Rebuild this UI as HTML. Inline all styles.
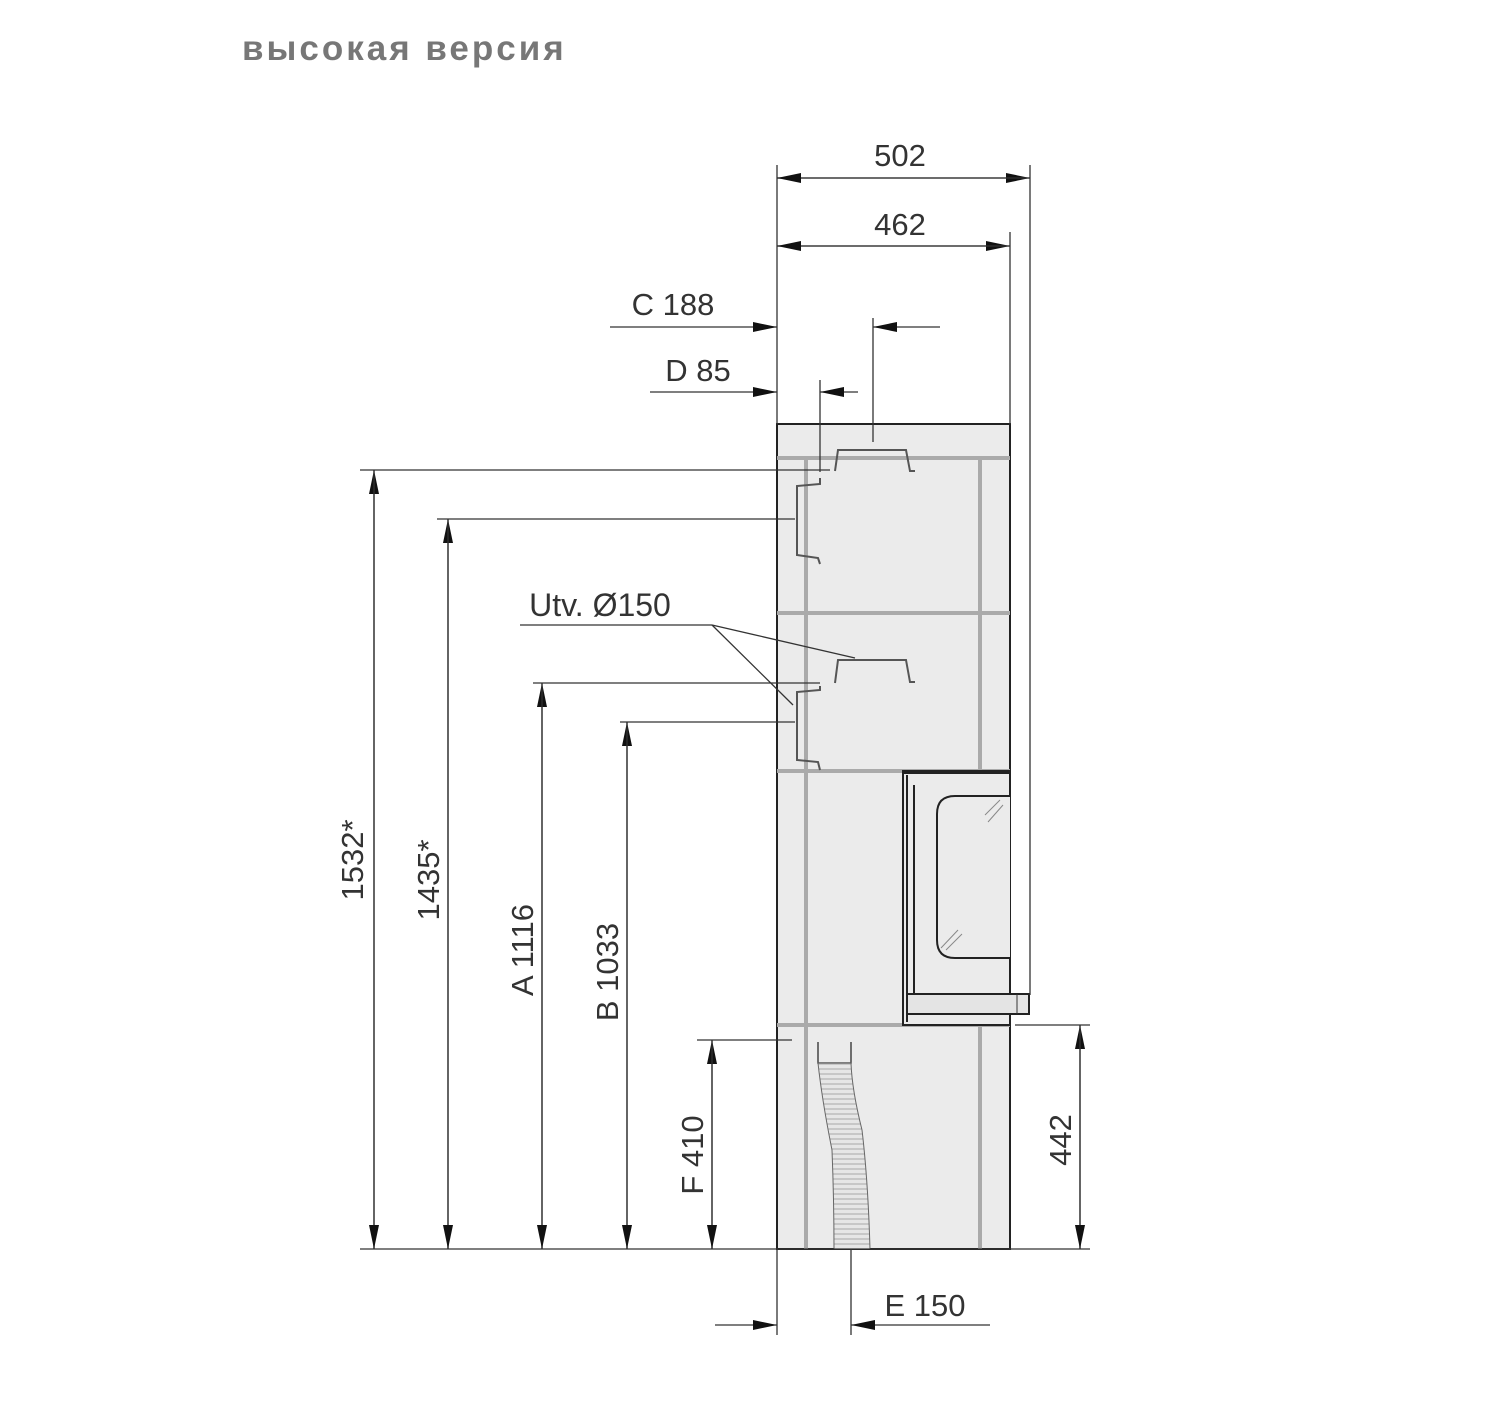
<!DOCTYPE html>
<html><head><meta charset="utf-8"><style>
html,body{margin:0;padding:0;background:#fff;}
svg{display:block}
text{font-family:"Liberation Sans","DejaVu Sans",sans-serif;fill:#333;font-size:31px}
</style></head><body>
<svg width="1500" height="1427" viewBox="0 0 1500 1427" xmlns="http://www.w3.org/2000/svg">
<defs>
<marker id="a" markerWidth="24" markerHeight="12" refX="24" refY="6" orient="auto" markerUnits="userSpaceOnUse">
<path d="M0,1 L24,6 L0,11 Z" fill="#111"/></marker>
<pattern id="h" width="10" height="5" patternUnits="userSpaceOnUse"><rect width="10" height="5" fill="#e6e6e6"/><line x1="0" y1="4" x2="10" y2="4" stroke="#999" stroke-width="0.8"/></pattern>
</defs>
<text x="242" y="60" style="font-size:35px;font-weight:bold;fill:#777;letter-spacing:3px">высокая версия</text>

<rect x="777" y="424" width="233" height="825" fill="#ebebeb" stroke="#222" stroke-width="2"/>
<g stroke="#aaa" stroke-width="4" fill="none">
<line x1="777" y1="458" x2="1010" y2="458"/>
<line x1="777" y1="613" x2="1010" y2="613"/>
<line x1="777" y1="771" x2="1010" y2="771"/>
<line x1="777" y1="1025" x2="1010" y2="1025"/>
<line x1="806" y1="458" x2="806" y2="1249"/>
<line x1="980" y1="458" x2="980" y2="771"/>
<line x1="980" y1="1025" x2="980" y2="1249"/>
</g>
<g stroke="#555" stroke-width="2" fill="none">
<path d="M835,471 L838,450 L906,450 L910,471 L915,471"/>
<path d="M820,478 L820,484 L797,486 L797,555 L818,558 L820,564"/>
<path d="M835,683 L838,660 L906,660 L910,682 L915,682"/>
<path d="M820,686 L820,690 L797,692 L797,760 L818,762 L820,770"/>
</g>
<rect x="903" y="771" width="107" height="254" fill="#ebebeb" stroke="#222" stroke-width="2"/>
<line x1="903" y1="772" x2="1010" y2="772" stroke="#222" stroke-width="4"/>
<path d="M907,775 L907,1022 M914,785 L914,995" stroke="#222" stroke-width="2" fill="none"/>
<path d="M1010,796 L955,796 Q937,796 937,814 L937,940 Q937,958 955,958 L1010,958" fill="#ebebeb" stroke="#222" stroke-width="2"/>
<g stroke="#888" stroke-width="1"><line x1="985" y1="815" x2="1000" y2="800"/><line x1="988" y1="822" x2="1003" y2="805"/><line x1="941" y1="948" x2="958" y2="930"/><line x1="946" y1="950" x2="962" y2="934"/></g>
<rect x="907" y="994" width="122" height="20" fill="#e4e4e4" stroke="#222" stroke-width="2"/>
<line x1="1017" y1="994" x2="1017" y2="1014" stroke="#333"/>
<path d="M818,1042 L818,1063 L851,1063 L851,1042" stroke="#444" stroke-width="1.5" fill="none"/>
<path d="M818,1063 Q822,1100 832,1150 Q834,1200 834,1249 L870,1249 Q868,1180 862,1130 Q852,1090 851,1063 Z" fill="url(#h)" stroke="#666" stroke-width="1"/>

<g stroke="#333" stroke-width="1.3" fill="none">
<line x1="777" y1="165" x2="777" y2="424"/>
<line x1="1030" y1="165" x2="1030" y2="995"/>
<line x1="1010" y1="232" x2="1010" y2="424"/>
<line x1="777" y1="178" x2="1030" y2="178" marker-end="url(#a)"/>
<line x1="1030" y1="178" x2="777" y2="178" marker-end="url(#a)"/>
<line x1="777" y1="246" x2="1010" y2="246" marker-end="url(#a)"/>
<line x1="1010" y1="246" x2="777" y2="246" marker-end="url(#a)"/>
<line x1="610" y1="327" x2="777" y2="327" marker-end="url(#a)"/>
<line x1="940" y1="327" x2="873" y2="327" marker-end="url(#a)"/>
<line x1="873" y1="318" x2="873" y2="442"/>
<line x1="650" y1="392" x2="777" y2="392" marker-end="url(#a)"/>
<line x1="858" y1="392" x2="820" y2="392" marker-end="url(#a)"/>
<line x1="820" y1="380" x2="820" y2="472"/>
<line x1="360" y1="470" x2="830" y2="470"/>
<line x1="437" y1="519" x2="795" y2="519"/>
<line x1="533" y1="683" x2="820" y2="683"/>
<line x1="620" y1="722" x2="795" y2="722"/>
<line x1="697" y1="1040" x2="792" y2="1040"/>
<line x1="360" y1="1249" x2="1090" y2="1249"/>
<line x1="1015" y1="1025" x2="1090" y2="1025"/>
<line x1="374" y1="1249" x2="374" y2="470" marker-end="url(#a)"/>
<line x1="374" y1="470" x2="374" y2="1249" marker-end="url(#a)"/>
<line x1="448" y1="1249" x2="448" y2="519" marker-end="url(#a)"/>
<line x1="448" y1="519" x2="448" y2="1249" marker-end="url(#a)"/>
<line x1="542" y1="1249" x2="542" y2="683" marker-end="url(#a)"/>
<line x1="542" y1="683" x2="542" y2="1249" marker-end="url(#a)"/>
<line x1="627" y1="1249" x2="627" y2="722" marker-end="url(#a)"/>
<line x1="627" y1="722" x2="627" y2="1249" marker-end="url(#a)"/>
<line x1="712" y1="1249" x2="712" y2="1040" marker-end="url(#a)"/>
<line x1="712" y1="1040" x2="712" y2="1249" marker-end="url(#a)"/>
<line x1="1080" y1="1249" x2="1080" y2="1025" marker-end="url(#a)"/>
<line x1="1080" y1="1025" x2="1080" y2="1249" marker-end="url(#a)"/>
<line x1="777" y1="1249" x2="777" y2="1335"/>
<line x1="851" y1="1249" x2="851" y2="1335"/>
<line x1="715" y1="1325" x2="777" y2="1325" marker-end="url(#a)"/>
<line x1="990" y1="1325" x2="851" y2="1325" marker-end="url(#a)"/>
<line x1="520" y1="625" x2="712" y2="625"/>
<line x1="712" y1="625" x2="855" y2="658"/>
<line x1="712" y1="625" x2="793" y2="705"/>
</g>

<text x="900" y="166" text-anchor="middle">502</text>
<text x="900" y="235" text-anchor="middle">462</text>
<text x="673" y="315" text-anchor="middle">C 188</text>
<text x="698" y="381" text-anchor="middle">D 85</text>
<text x="600" y="616" text-anchor="middle" style="font-size:32px">Utv. Ø150</text>
<text x="925" y="1316" text-anchor="middle">E 150</text>
<text transform="translate(363,860) rotate(-90)" text-anchor="middle">1532*</text>
<text transform="translate(439,880) rotate(-90)" text-anchor="middle">1435*</text>
<text transform="translate(533,950) rotate(-90)" text-anchor="middle">A 1116</text>
<text transform="translate(618,972) rotate(-90)" text-anchor="middle">B 1033</text>
<text transform="translate(703,1155) rotate(-90)" text-anchor="middle">F 410</text>
<text transform="translate(1071,1140) rotate(-90)" text-anchor="middle">442</text>
</svg>
</body></html>
